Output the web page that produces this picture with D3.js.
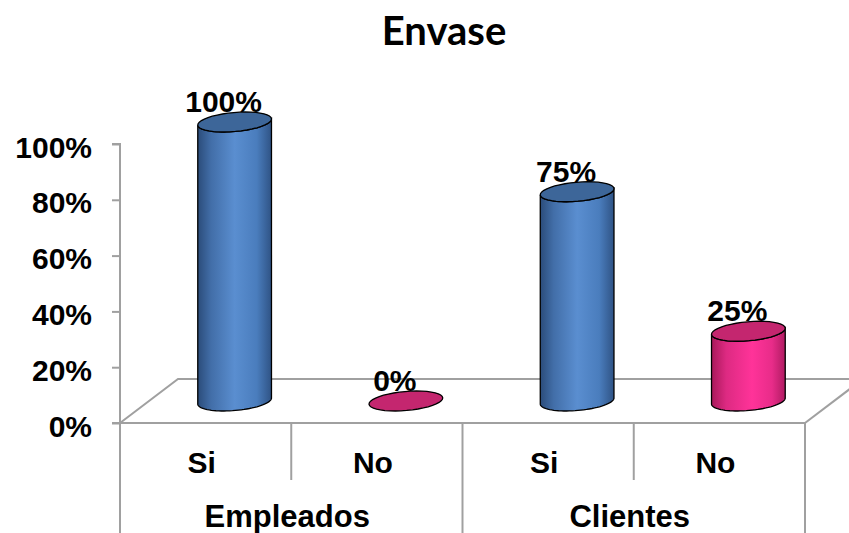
<!DOCTYPE html>
<html><head><meta charset="utf-8">
<script src="https://cdn.jsdelivr.net/npm/d3@7"></script>
<style>body{margin:0;background:#fff}svg{display:block}</style>
</head><body>
<svg id="c" width="849" height="533"></svg>
<script>
const title = "Envase";
const groups = ["Empleados", "Clientes"];
const categories = ["Si", "No", "Si", "No"];
const categoryGroup = [0, 0, 1, 1];
const values = [1.00, 0.00, 0.75, 0.25];
const valueLabels = ["100%", "0%", "75%", "25%"];
const yTicks = [0, 0.2, 0.4, 0.6, 0.8, 1.0];
const colorKind = ["blue", "pink", "blue", "pink"];

const svg = d3.select("#c");
const W = 849, H = 533;
const x0 = 120, x1 = 805, yBase = 423, yTop = 144;
const depthX = 58, depthY = -44;
const gray = "#a0a0a0";

const y = d3.scaleLinear().domain([0, 1]).range([yBase, yTop]);
const x = d3.scaleBand().domain(d3.range(categories.length)).range([x0, x1]).padding(0);

// gradients
const defs = svg.append("defs");
function grad(id, stops) {
  const g = defs.append("linearGradient").attr("id", id).attr("x1", "0").attr("x2", "1").attr("y1", "0").attr("y2", "0");
  stops.forEach(s => g.append("stop").attr("offset", s[0]).attr("stop-color", s[1]));
}
grad("blueSide", [[0, "#2b4c7a"], [0.18, "#426ea8"], [0.5, "#5a8ed0"], [0.8, "#4a7dbd"], [1, "#2f5385"]]);
grad("pinkSide", [[0, "#a8185a"], [0.2, "#dd2a82"], [0.55, "#ff3399"], [0.82, "#e82c89"], [1, "#b01b62"]]);
const topFill = { blue: "#3d6699", pink: "#c4266f" };
const sideFill = { blue: "url(#blueSide)", pink: "url(#pinkSide)" };

// title
svg.append("text").attr("x", 444).attr("y", 45).attr("text-anchor", "middle")
  .attr("font-family", "Lato, 'Open Sans', sans-serif").attr("font-weight", "bold")
  .attr("font-size", 40).attr("fill", "#000").text(title);

// floor
const fl = svg.append("g").attr("stroke", gray).attr("stroke-width", 2).attr("fill", "none");
fl.append("path").attr("d", `M${x0},${yBase}L${x0 + depthX},${yBase + depthY}L${W + 5},${yBase + depthY}`);
fl.append("path").attr("d", `M${x1},${yBase}L${x1 + depthX},${yBase + depthY}`);
fl.append("line").attr("x1", x0).attr("x2", x1).attr("y1", yBase).attr("y2", yBase);

// y axis
const yAxis = d3.axisLeft(y).tickValues(yTicks).tickFormat(d3.format(".0%")).tickSize(8).tickPadding(20);
const ya = svg.append("g").attr("transform", `translate(${x0},0)`).call(yAxis);
ya.select(".domain").attr("stroke", gray).attr("stroke-width", 2).attr("d", `M-8,${yTop}H0V${yBase}H-8`);
ya.selectAll(".tick line").attr("stroke", gray).attr("stroke-width", 2);
ya.selectAll(".tick text").attr("font-family", "'Liberation Sans', Arial, sans-serif")
  .attr("font-weight", "bold").attr("font-size", 30).attr("fill", "#000").attr("dy", 13);

// category separators
const sep = svg.append("g").attr("stroke", gray).attr("stroke-width", 2);
const bounds = d3.range(categories.length + 1).map(i => i < categories.length ? x(i) : x1);
bounds.forEach((bx, i) => {
  const full = (i === 0 || i === categories.length || categoryGroup[i] !== categoryGroup[i - 1]);
  sep.append("line").attr("x1", bx).attr("x2", bx).attr("y1", yBase).attr("y2", full ? H : 480);
});

// category labels
svg.append("g").selectAll("text").data(categories).join("text")
  .attr("x", (d, i) => x(i) + x.bandwidth() / 2 - 4).attr("y", 473)
  .attr("text-anchor", "middle").attr("font-family", "'Liberation Sans', Arial, sans-serif")
  .attr("font-weight", "bold").attr("font-size", 30).attr("fill", "#000").text(d => d);

// group labels
svg.append("g").selectAll("text").data(groups).join("text")
  .attr("x", (d, gi) => {
    const idx = categoryGroup.map((g, i) => g === gi ? i : -1).filter(i => i >= 0);
    const a = x(idx[0]), b = x(idx[idx.length - 1]) + x.bandwidth();
    return (a + b) / 2 - 4;
  }).attr("y", 527)
  .attr("text-anchor", "middle").attr("font-family", "'Liberation Sans', Arial, sans-serif")
  .attr("font-weight", "bold").attr("font-size", 31).attr("fill", "#000").text(d => d);

// cylinders
const rx = 37, ry = 9.5, ang = -5 * Math.PI / 180;
function ePt(cx, cy, t) {
  const px = rx * Math.cos(t), py = ry * Math.sin(t);
  return [cx + px * Math.cos(ang) - py * Math.sin(ang), cy + px * Math.sin(ang) + py * Math.cos(ang)];
}
function ellipsePath(cx, cy, t0, t1, move) {
  const n = 40; let s = "";
  for (let k = 0; k <= n; k++) {
    const t = t0 + (t1 - t0) * k / n;
    const p = ePt(cx, cy, t);
    s += (k === 0 && move ? "M" : "L") + p[0].toFixed(2) + "," + p[1].toFixed(2);
  }
  return s;
}
const bars = svg.append("g");
values.forEach((v, i) => {
  const cx = x(i) + x.bandwidth() / 2 + depthX / 2;
  const cb = y(0) + depthY / 2;
  const ct = y(v) + depthY / 2;
  const kind = colorKind[i];
  if (v > 0) {
    const p1 = ePt(cx, ct, 0);
    let side = `M${p1[0]},${p1[1]}` + ellipsePath(cx, ct, 0, Math.PI, false);
    side += ellipsePath(cx, cb, Math.PI, 0, false) + "Z";
    bars.append("path").attr("d", side).attr("fill", sideFill[kind]).attr("stroke", "#000").attr("stroke-width", 1.3);
  }
  bars.append("path").attr("d", ellipsePath(cx, ct, 0, 2 * Math.PI, true) + "Z")
    .attr("fill", topFill[kind]).attr("stroke", "#000").attr("stroke-width", 1.3);
  bars.append("text").attr("x", cx - 11).attr("y", ct - 10).attr("text-anchor", "middle")
    .attr("font-family", "'Liberation Sans', Arial, sans-serif").attr("font-weight", "bold")
    .attr("font-size", 30).attr("fill", "#000").text(valueLabels[i]);
});
</script>
</body></html>
